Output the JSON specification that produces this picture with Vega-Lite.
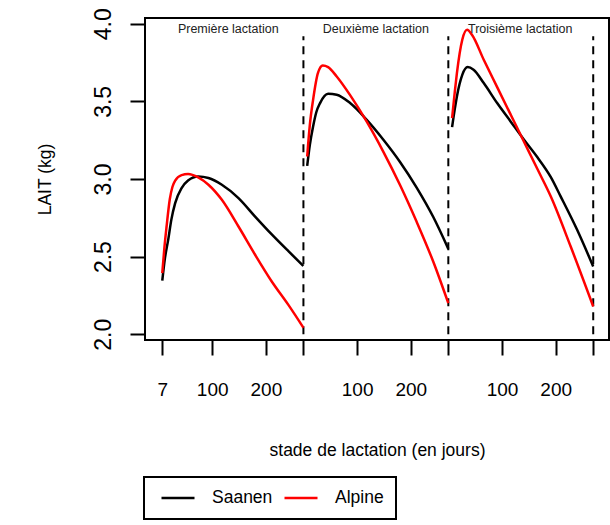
{
  "$schema": "https://vega.github.io/schema/vega-lite/v6.json",
  "width": 464,
  "height": 322,
  "autosize": "none",
  "padding": {"left": 145, "top": 18, "right": 1, "bottom": 185},
  "background": "white",
  "config": {
    "view": {"stroke": "black", "strokeWidth": 2},
    "font": "Liberation Sans",
    "text": {"font": "Liberation Sans"}
  },
  "encoding": {
    "x": {
      "field": "x",
      "type": "quantitative",
      "scale": {"domain": [-25.2, 839.4], "nice": false, "zero": false},
      "axis": {
        "values": [7, 100, 200, 270, 370, 470, 540, 640, 740, 810],
        "labelExpr": "datum.value == 7 ? '7' : (datum.value % 270 == 100 ? '100' : (datum.value % 270 == 200 ? '200' : ''))",
        "domain": false,
        "grid": false,
        "tickSize": 15,
        "tickWidth": 2,
        "tickColor": "black",
        "labelFont": "Liberation Sans",
        "labelFontSize": 19,
        "labelColor": "black",
        "labelPadding": 25,
        "labelFlush": false,
        "labelOverlap": false,
        "title": "stade de lactation (en jours)",
        "titleFont": "Liberation Sans",
        "titleFontSize": 17.5,
        "titleFontWeight": "normal",
        "titleColor": "black",
        "titleX": 232,
        "titleY": 110,
        "titleAlign": "center",
        "titleBaseline": "middle"
      }
    },
    "y": {
      "field": "y",
      "type": "quantitative",
      "scale": {"domain": [1.963, 4.037], "nice": false, "zero": false},
      "axis": {
        "values": [2, 2.5, 3, 3.5, 4],
        "format": ".1f",
        "domain": false,
        "grid": false,
        "tickSize": 15,
        "tickWidth": 2,
        "tickColor": "black",
        "labelFont": "Liberation Sans",
        "labelFontSize": 23,
        "labelColor": "black",
        "labelAngle": -90,
        "labelAlign": "center",
        "labelBaseline": "alphabetic",
        "labelPadding": 20,
        "labelFlush": false,
        "labelOverlap": false,
        "title": "LAIT (kg)",
        "titleFont": "Liberation Sans",
        "titleFontSize": 17.5,
        "titleFontWeight": "normal",
        "titleColor": "black",
        "titleAngle": -90,
        "titleX": -100,
        "titleY": 161,
        "titleAlign": "center",
        "titleBaseline": "middle"
      }
    }
  },
  "layer": [
    {
      "data": {"values": [
        {"x": 270, "y": 2.0, "y2": 3.92},
        {"x": 540, "y": 2.0, "y2": 3.92},
        {"x": 810, "y": 2.0, "y2": 3.92}
      ]},
      "mark": {"type": "rule", "color": "black", "strokeWidth": 2, "strokeDash": [8, 6]},
      "encoding": {"y2": {"field": "y2"}}
    },
    {
      "data": {"values": [
        {"race": "Saanen", "lactation": 1, "x": 7, "y": 2.346},
        {"race": "Saanen", "lactation": 1, "x": 12, "y": 2.49},
        {"race": "Saanen", "lactation": 1, "x": 18, "y": 2.608},
        {"race": "Saanen", "lactation": 1, "x": 24, "y": 2.74},
        {"race": "Saanen", "lactation": 1, "x": 31, "y": 2.845},
        {"race": "Saanen", "lactation": 1, "x": 43, "y": 2.941},
        {"race": "Saanen", "lactation": 1, "x": 55, "y": 2.99},
        {"race": "Saanen", "lactation": 1, "x": 74, "y": 3.016},
        {"race": "Saanen", "lactation": 1, "x": 93, "y": 3.006},
        {"race": "Saanen", "lactation": 1, "x": 118, "y": 2.963},
        {"race": "Saanen", "lactation": 1, "x": 149, "y": 2.877},
        {"race": "Saanen", "lactation": 1, "x": 180, "y": 2.758},
        {"race": "Saanen", "lactation": 1, "x": 211, "y": 2.643},
        {"race": "Saanen", "lactation": 1, "x": 242, "y": 2.535},
        {"race": "Saanen", "lactation": 1, "x": 270, "y": 2.44},
        {"race": "Alpine", "lactation": 1, "x": 7, "y": 2.394},
        {"race": "Alpine", "lactation": 1, "x": 11, "y": 2.56},
        {"race": "Alpine", "lactation": 1, "x": 15, "y": 2.694},
        {"race": "Alpine", "lactation": 1, "x": 21, "y": 2.87},
        {"race": "Alpine", "lactation": 1, "x": 26, "y": 2.95},
        {"race": "Alpine", "lactation": 1, "x": 31, "y": 2.99},
        {"race": "Alpine", "lactation": 1, "x": 43, "y": 3.025},
        {"race": "Alpine", "lactation": 1, "x": 55, "y": 3.032},
        {"race": "Alpine", "lactation": 1, "x": 74, "y": 3.01},
        {"race": "Alpine", "lactation": 1, "x": 93, "y": 2.963},
        {"race": "Alpine", "lactation": 1, "x": 118, "y": 2.866},
        {"race": "Alpine", "lactation": 1, "x": 149, "y": 2.694},
        {"race": "Alpine", "lactation": 1, "x": 180, "y": 2.512},
        {"race": "Alpine", "lactation": 1, "x": 211, "y": 2.34},
        {"race": "Alpine", "lactation": 1, "x": 242, "y": 2.189},
        {"race": "Alpine", "lactation": 1, "x": 270, "y": 2.042},
        {"race": "Saanen", "lactation": 2, "x": 277, "y": 3.085},
        {"race": "Saanen", "lactation": 2, "x": 282, "y": 3.22},
        {"race": "Saanen", "lactation": 2, "x": 288, "y": 3.338},
        {"race": "Saanen", "lactation": 2, "x": 294, "y": 3.43},
        {"race": "Saanen", "lactation": 2, "x": 301, "y": 3.489},
        {"race": "Saanen", "lactation": 2, "x": 316, "y": 3.549},
        {"race": "Saanen", "lactation": 2, "x": 332, "y": 3.543},
        {"race": "Saanen", "lactation": 2, "x": 357, "y": 3.489},
        {"race": "Saanen", "lactation": 2, "x": 388, "y": 3.381},
        {"race": "Saanen", "lactation": 2, "x": 419, "y": 3.253},
        {"race": "Saanen", "lactation": 2, "x": 450, "y": 3.11},
        {"race": "Saanen", "lactation": 2, "x": 481, "y": 2.945},
        {"race": "Saanen", "lactation": 2, "x": 512, "y": 2.755},
        {"race": "Saanen", "lactation": 2, "x": 540, "y": 2.55},
        {"race": "Alpine", "lactation": 2, "x": 277, "y": 3.145},
        {"race": "Alpine", "lactation": 2, "x": 282, "y": 3.35},
        {"race": "Alpine", "lactation": 2, "x": 288, "y": 3.51},
        {"race": "Alpine", "lactation": 2, "x": 297, "y": 3.682},
        {"race": "Alpine", "lactation": 2, "x": 306, "y": 3.731},
        {"race": "Alpine", "lactation": 2, "x": 316, "y": 3.721},
        {"race": "Alpine", "lactation": 2, "x": 332, "y": 3.66},
        {"race": "Alpine", "lactation": 2, "x": 357, "y": 3.54},
        {"race": "Alpine", "lactation": 2, "x": 388, "y": 3.369},
        {"race": "Alpine", "lactation": 2, "x": 419, "y": 3.175},
        {"race": "Alpine", "lactation": 2, "x": 450, "y": 2.961},
        {"race": "Alpine", "lactation": 2, "x": 481, "y": 2.724},
        {"race": "Alpine", "lactation": 2, "x": 512, "y": 2.467},
        {"race": "Alpine", "lactation": 2, "x": 540, "y": 2.2},
        {"race": "Saanen", "lactation": 3, "x": 547, "y": 3.334},
        {"race": "Saanen", "lactation": 3, "x": 552, "y": 3.45},
        {"race": "Saanen", "lactation": 3, "x": 556, "y": 3.532},
        {"race": "Saanen", "lactation": 3, "x": 566, "y": 3.671},
        {"race": "Saanen", "lactation": 3, "x": 576, "y": 3.721},
        {"race": "Saanen", "lactation": 3, "x": 587, "y": 3.704},
        {"race": "Saanen", "lactation": 3, "x": 606, "y": 3.618},
        {"race": "Saanen", "lactation": 3, "x": 631, "y": 3.489},
        {"race": "Saanen", "lactation": 3, "x": 656, "y": 3.371},
        {"race": "Saanen", "lactation": 3, "x": 681, "y": 3.253},
        {"race": "Saanen", "lactation": 3, "x": 706, "y": 3.14},
        {"race": "Saanen", "lactation": 3, "x": 731, "y": 3.012},
        {"race": "Saanen", "lactation": 3, "x": 749, "y": 2.89},
        {"race": "Saanen", "lactation": 3, "x": 780, "y": 2.673},
        {"race": "Saanen", "lactation": 3, "x": 810, "y": 2.436},
        {"race": "Alpine", "lactation": 3, "x": 547, "y": 3.392},
        {"race": "Alpine", "lactation": 3, "x": 552, "y": 3.56},
        {"race": "Alpine", "lactation": 3, "x": 556, "y": 3.682},
        {"race": "Alpine", "lactation": 3, "x": 566, "y": 3.897},
        {"race": "Alpine", "lactation": 3, "x": 575, "y": 3.961},
        {"race": "Alpine", "lactation": 3, "x": 584, "y": 3.929},
        {"race": "Alpine", "lactation": 3, "x": 606, "y": 3.768},
        {"race": "Alpine", "lactation": 3, "x": 631, "y": 3.592},
        {"race": "Alpine", "lactation": 3, "x": 656, "y": 3.416},
        {"race": "Alpine", "lactation": 3, "x": 681, "y": 3.24},
        {"race": "Alpine", "lactation": 3, "x": 706, "y": 3.064},
        {"race": "Alpine", "lactation": 3, "x": 731, "y": 2.887},
        {"race": "Alpine", "lactation": 3, "x": 768, "y": 2.565},
        {"race": "Alpine", "lactation": 3, "x": 810, "y": 2.179}
      ]},
      "mark": {"type": "line", "interpolate": "monotone", "strokeWidth": 2.5},
      "encoding": {
        "detail": {"field": "lactation"},
        "color": {
          "field": "race",
          "type": "nominal",
          "scale": {"domain": ["Saanen", "Alpine"], "range": ["#000000", "#ff0000"]},
          "legend": {
            "title": null,
            "orient": "none",
            "direction": "horizontal",
            "legendX": -1,
            "legendY": 459,
            "strokeColor": "black",
            "padding": 12,
            "clipHeight": 18,
            "symbolType": "stroke",
            "symbolSize": 1089,
            "symbolStrokeWidth": 2.5,
            "symbolOffset": 4,
            "labelFont": "Liberation Sans",
            "labelFontSize": 17.5,
            "labelColor": "black",
            "labelOffset": 16,
            "columnPadding": 6,
            "encode": {"legend": {"update": {"strokeWidth": {"value": 2}}}}
          }
        }
      }
    },
    {
      "data": {"values": [
        {"x": 130, "y": 3.966, "label": "Première lactation"},
        {"x": 405, "y": 3.966, "label": "Deuxième lactation"},
        {"x": 674, "y": 3.966, "label": "Troisième lactation"}
      ]},
      "mark": {"type": "text", "fontSize": 12.5, "align": "center", "baseline": "middle", "color": "#222222", "font": "Liberation Sans"},
      "encoding": {"text": {"field": "label"}}
    }
  ]
}
